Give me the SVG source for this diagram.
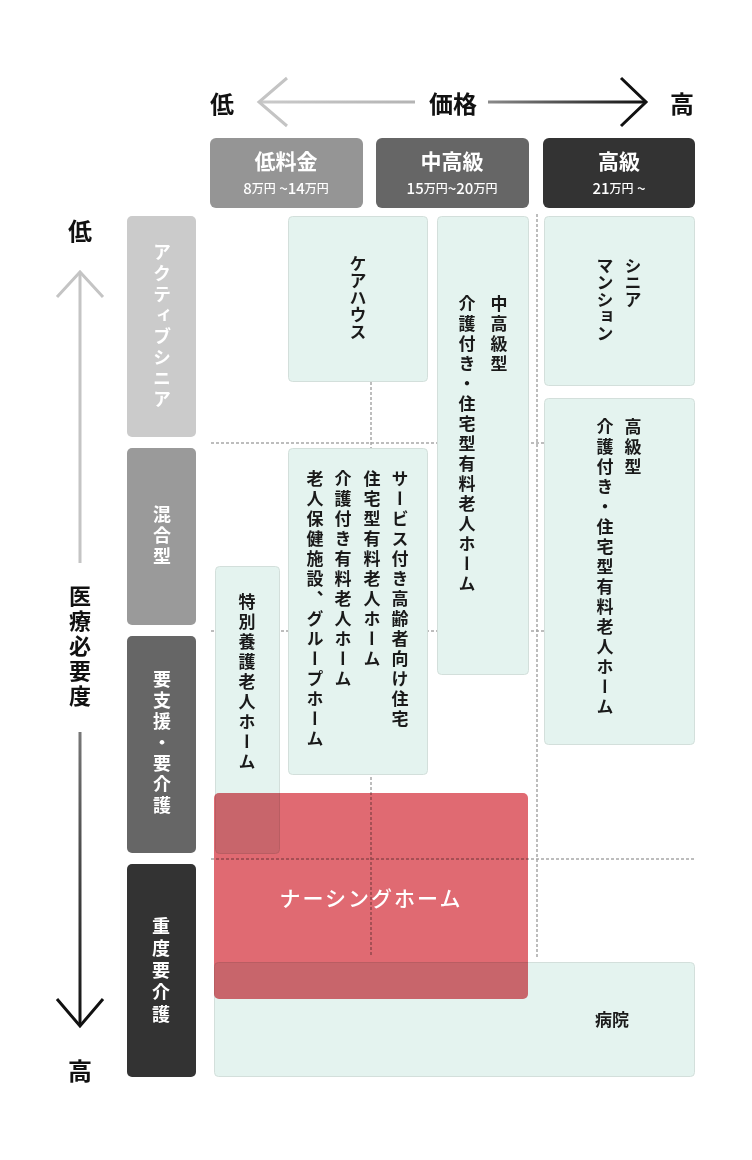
<svg xmlns="http://www.w3.org/2000/svg" width="752" height="1160" viewBox="0 0 752 1160">
<style>
text{font-family:"Noto Sans CJK JP","Noto Sans",sans-serif;font-weight:700}
.ax{font-size:24px;fill:#111;text-anchor:middle;dominant-baseline:central}
.ptitle{font-size:21px;fill:#fff;text-anchor:middle;dominant-baseline:central}
.psub{font-size:15px;fill:#fff;text-anchor:middle;dominant-baseline:central;font-weight:500}
.psub tspan.u{font-size:12px}
.cat{font-size:18px;fill:#fff;writing-mode:vertical-rl;letter-spacing:3px}
.box{fill:#e4f3ef;stroke:#d3dfdb;stroke-width:1}
.vt{font-size:17px;fill:#1a1a1a;writing-mode:vertical-rl;letter-spacing:3px}
.vt0{font-size:17px;fill:#1a1a1a;writing-mode:vertical-rl}
.dot{stroke:#a8a8a8;stroke-width:1.5;stroke-dasharray:3 2;fill:none}
</style>
<defs>
<linearGradient id="gl" gradientUnits="userSpaceOnUse" x1="259" y1="0" x2="415" y2="0"><stop offset="0" stop-color="#cacaca"/><stop offset="1" stop-color="#b4b4b4"/></linearGradient>
<linearGradient id="gr" gradientUnits="userSpaceOnUse" x1="488" y1="0" x2="645" y2="0"><stop offset="0" stop-color="#8a8a8a"/><stop offset="1" stop-color="#111"/></linearGradient>
<linearGradient id="gd" gradientUnits="userSpaceOnUse" x1="0" y1="732" x2="0" y2="1025"><stop offset="0" stop-color="#777"/><stop offset="1" stop-color="#111"/></linearGradient>
</defs>

<g id="axes">
<text class="ax" x="222" y="102">低</text>
<line x1="259" y1="102" x2="415" y2="102" stroke="url(#gl)" stroke-width="3"/>
<polyline points="287,78 259,102 287,126" fill="none" stroke="#c4c4c4" stroke-width="3"/>
<text class="ax" x="453" y="102">価格</text>
<line x1="488" y1="102" x2="645" y2="102" stroke="url(#gr)" stroke-width="3"/>
<polyline points="621,78 646,102 621,126" fill="none" stroke="#111" stroke-width="3"/>
<text class="ax" x="682" y="102">高</text>

<text class="ax" x="80" y="229">低</text>
<line x1="80" y1="273" x2="80" y2="563" stroke="#c4c4c4" stroke-width="3"/>
<polyline points="57,297 80,272 103,297" fill="none" stroke="#c4c4c4" stroke-width="3"/>
<text x="80" y="585" style="font-size:22px;fill:#111;writing-mode:vertical-rl;letter-spacing:3px">医療必要度</text>
<line x1="80" y1="732" x2="80" y2="1025" stroke="url(#gd)" stroke-width="3"/>
<polyline points="57,999 80,1026 103,999" fill="none" stroke="#111" stroke-width="3"/>
<text class="ax" x="80" y="1069">高</text>
</g>

<g id="price-low">
<rect x="210" y="138" width="153" height="70" rx="6" fill="#959595"/>
<text class="ptitle" x="286" y="160">低料金</text>
<text class="psub" x="286" y="187">8<tspan class="u">万円</tspan> ~14<tspan class="u">万円</tspan></text>
</g>
<g id="price-mid">
<rect x="376" y="138" width="153" height="70" rx="6" fill="#666"/>
<text class="ptitle" x="452" y="160">中高級</text>
<text class="psub" x="452" y="187">15<tspan class="u">万円</tspan>~20<tspan class="u">万円</tspan></text>
</g>
<g id="price-high">
<rect x="543" y="138" width="152" height="70" rx="6" fill="#333"/>
<text class="ptitle" x="619" y="160">高級</text>
<text class="psub" x="619" y="187">21<tspan class="u">万円</tspan> ~</text>
</g>

<g id="cat-active">
<rect x="127" y="216" width="69" height="221" rx="5" fill="#cbcbcb"/>
<text class="cat" x="162" y="243">アクティブシニア</text>
</g>
<g id="cat-mixed">
<rect x="127" y="448" width="69" height="177" rx="5" fill="#9a9a9a"/>
<text class="cat" x="162" y="505">混合型</text>
</g>
<g id="cat-support">
<rect x="127" y="636" width="69" height="217" rx="5" fill="#666"/>
<text class="cat" x="162" y="670">要支援・要介護</text>
</g>
<g id="cat-heavy">
<rect x="127" y="864" width="69" height="213" rx="5" fill="#333"/>
<text class="cat" x="161" y="917" style="letter-spacing:4px">重度要介護</text>
</g>

<g id="connectors">
<line class="dot" x1="211" y1="443" x2="695" y2="443"/>
<line class="dot" x1="211" y1="631" x2="695" y2="631"/>
<line class="dot" x1="211" y1="859" x2="695" y2="859"/>
<line class="dot" x1="371" y1="382" x2="371" y2="957"/>
<line class="dot" x1="537" y1="214" x2="537" y2="957"/>
</g>

<g id="carehouse">
<rect class="box" x="288.5" y="216.5" width="139" height="165" rx="4"/>
<text class="vt0" x="358" y="255">ケアハウス</text>
</g>
<g id="mixed-facilities">
<rect class="box" x="288.5" y="448.5" width="139" height="326" rx="4"/>
<text class="vt" x="400" y="470">サービス付き高齢者向け住宅</text>
<text class="vt" x="372" y="470">住宅型有料老人ホーム</text>
<text class="vt" x="343" y="470">介護付き有料老人ホーム</text>
<text class="vt" x="315" y="470">老人保健施設、グループホーム</text>
</g>
<g id="tokuyo">
<rect class="box" x="215.5" y="566.5" width="64" height="287" rx="4"/>
<text class="vt" x="247" y="593">特別養護老人ホーム</text>
</g>
<g id="mid-yuryo">
<rect class="box" x="437.5" y="216.5" width="91" height="458" rx="4"/>
<text class="vt" x="499" y="295">中高級型</text>
<text class="vt" x="467" y="295">介護付き・住宅型有料老人ホーム</text>
</g>
<g id="senior-mansion">
<rect class="box" x="544.5" y="216.5" width="150" height="169" rx="4"/>
<text class="vt0" x="633" y="257">シニア</text>
<text class="vt0" x="605" y="257">マンション</text>
</g>
<g id="high-yuryo">
<rect class="box" x="544.5" y="398.5" width="150" height="346" rx="4"/>
<text class="vt" x="633" y="418">高級型</text>
<text class="vt" x="605" y="418">介護付き・住宅型有料老人ホーム</text>
</g>
<g id="hospital">
<rect class="box" x="214.5" y="962.5" width="480" height="114" rx="4"/>
<text x="612" y="1018" style="font-size:17px;fill:#1a1a1a;text-anchor:middle;dominant-baseline:central">病院</text>
</g>
<g id="nursing-home">
<rect x="214" y="793" width="314" height="206" rx="5" fill="#e06a72" style="mix-blend-mode:multiply"/>
<text x="371" y="897" style="font-size:21px;fill:#fff;text-anchor:middle;dominant-baseline:central;letter-spacing:2px;font-weight:500">ナーシングホーム</text>
</g>
</svg>
